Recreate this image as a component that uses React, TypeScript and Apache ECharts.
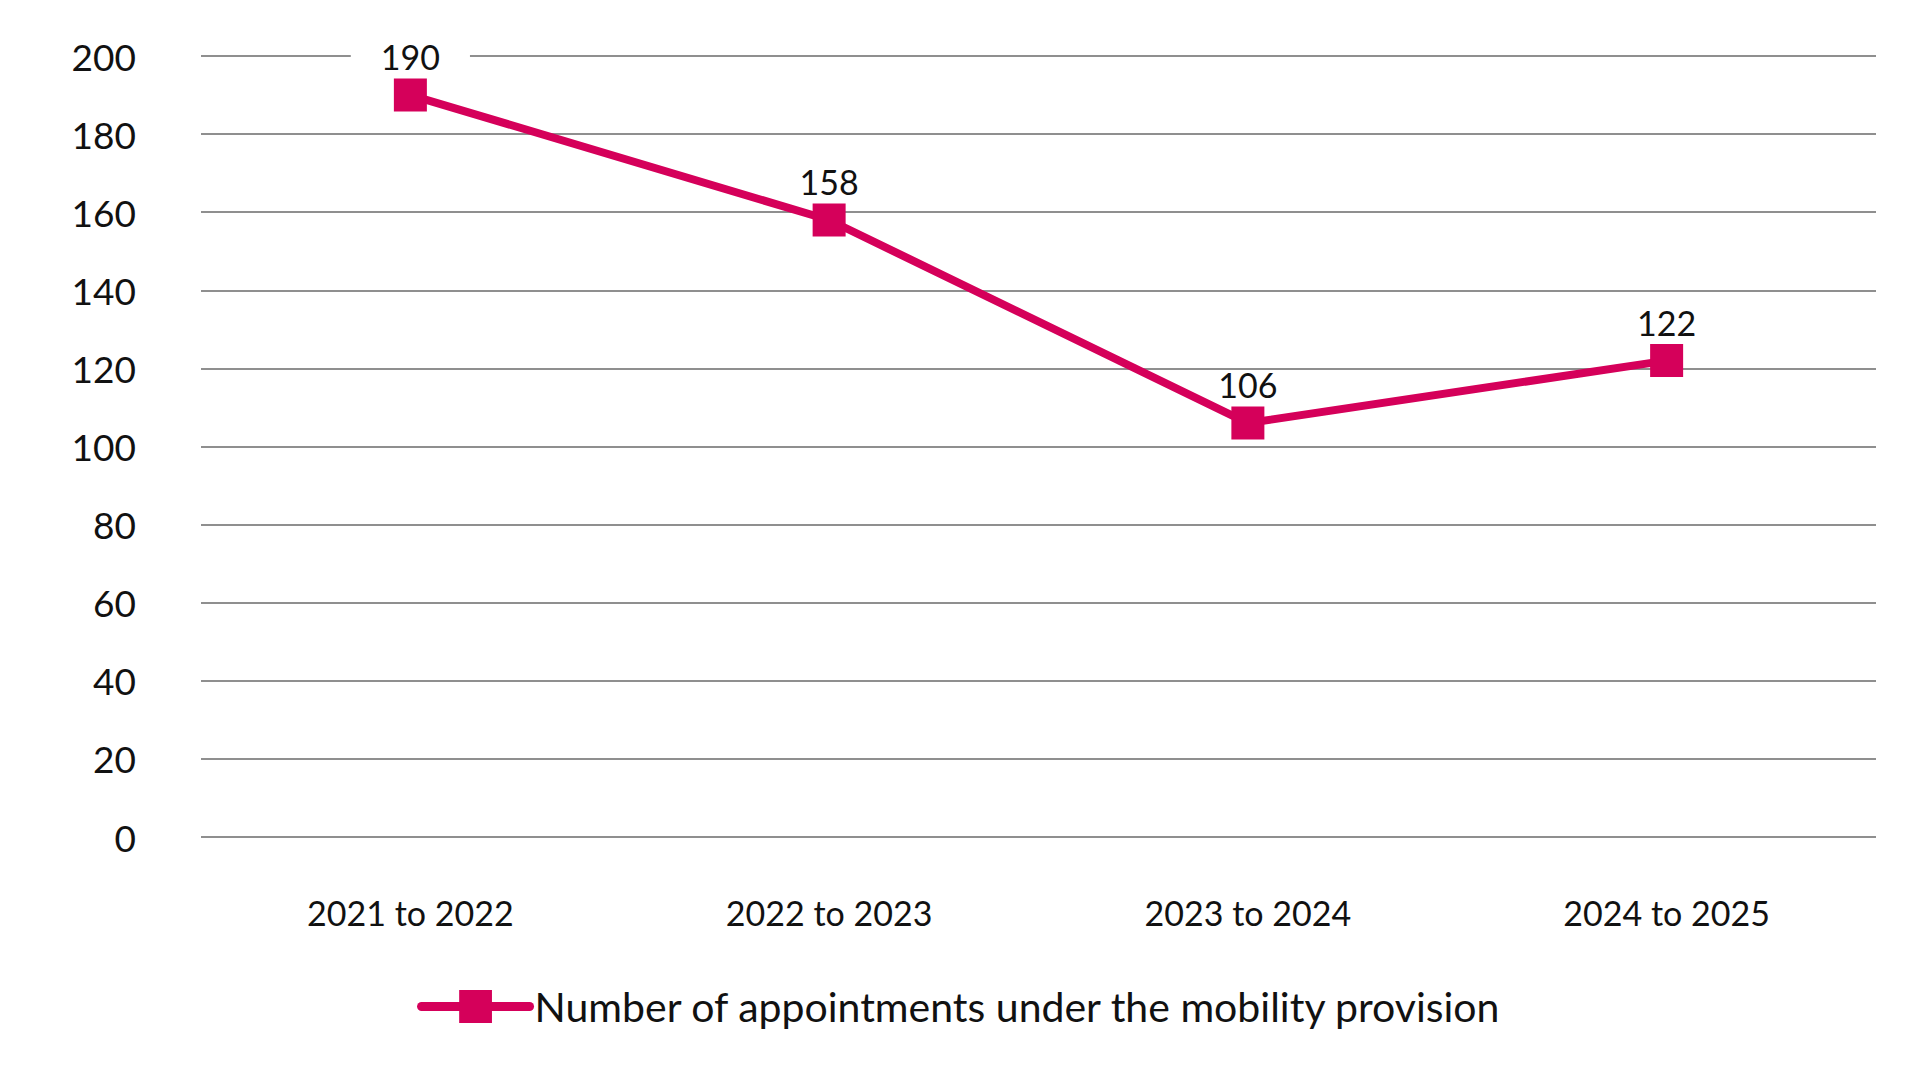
import React, { useEffect, useRef } from "react";
import * as echarts from "echarts";

const categories = ["2021 to 2022", "2022 to 2023", "2023 to 2024", "2024 to 2025"];
const appointments = [190, 158, 106, 122];
const seriesName = "Number of appointments under the mobility provision";
const yMin = 0;
const yMax = 200;
const yInterval = 20;

const FONT = "Lato, 'Open Sans', sans-serif";
const MAGENTA = "#D5005A";

export default function App() {
  const ref = useRef<HTMLDivElement>(null);
  useEffect(() => {
    if (!ref.current) return;
    const chart = echarts.init(ref.current, undefined, { renderer: "svg" });
    const seriesData = appointments.map((v, i) =>
      i === 0
        ? { value: v, label: { backgroundColor: "#ffffff", padding: [0, 30] } }
        : { value: v }
    );
    chart.setOption({
      animation: false,
      backgroundColor: "#ffffff",
      textStyle: { fontFamily: FONT },
      grid: { left: 201, right: 44, top: 56, bottom: 243, containLabel: false },
      xAxis: {
        type: "category",
        data: categories,
        boundaryGap: true,
        axisLine: { show: false },
        axisTick: { show: false },
        axisLabel: { color: "#111", fontSize: 34, fontFamily: FONT, margin: 58 },
      },
      yAxis: {
        type: "value",
        min: yMin,
        max: yMax,
        interval: yInterval,
        axisLine: { show: false },
        axisTick: { show: false },
        axisLabel: { color: "#111", fontSize: 37, fontFamily: FONT, margin: 65 },
        splitLine: { show: true, lineStyle: { color: "#6a6a6a", width: 1.6 } },
      },
      legend: {
        show: true,
        top: 981,
        left: "center",
        itemWidth: 108,
        itemHeight: 41,
        itemGap: 20,
        lineStyle: { width: 9, cap: "round" },
        textStyle: { color: "#111", fontSize: 41, fontFamily: FONT },
        data: [seriesName],
      },
      series: [
        {
          name: seriesName,
          type: "line",
          data: seriesData,
          symbol: "rect",
          symbolSize: 33,
          lineStyle: { color: MAGENTA, width: 8 },
          itemStyle: { color: MAGENTA },
          label: {
            show: true,
            position: "top",
            distance: 5,
            color: "#111",
            fontSize: 34,
            fontFamily: FONT,
          },
        },
      ],
    });
    return () => chart.dispose();
  }, []);
  return <div ref={ref} style={{ width: 1920, height: 1080, margin: -8 }} />;
}
